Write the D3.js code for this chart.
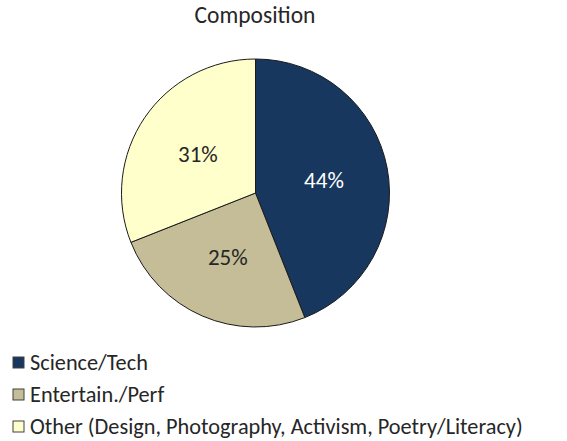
<!DOCTYPE html>
<html><head><meta charset="utf-8">
<script src="https://cdn.jsdelivr.net/npm/d3@7"></script>
<style>body{margin:0;background:#fff;} svg{display:block;} text{font-family:Carlito,Calibri,Lato,"Open Sans",sans-serif;}</style>
</head><body>
<div id="chart"></div>
<script>
const title = "Composition";
const categories = ["Science/Tech", "Entertain./Perf", "Other (Design, Photography, Activism, Poetry/Literacy)"];
const values = [44, 25, 31];
const labels = ["44%", "25%", "31%"];
const colors = ["#17375E", "#C4BD97", "#FFFFCC"];
const labelColors = ["#FFFFFF", "#262626", "#262626"];

const W = 567, H = 441;
const svg = d3.select("#chart").append("svg").attr("width", W).attr("height", H);
const cx = 255.5, cy = 193, R = 134;

svg.append("text").attr("x", 255).attr("y", 23).attr("text-anchor", "middle")
  .attr("font-size", 23.5).attr("fill", "#262626").text(title);

const pie = d3.pie().sort(null).value(d => d);
const arcs = pie(values);
const arc = d3.arc().innerRadius(0).outerRadius(R);
const labelArc = d3.arc().innerRadius(R * 0.52).outerRadius(R * 0.52);

const g = svg.append("g").attr("transform", `translate(${cx},${cy})`);
g.selectAll("path").data(arcs).join("path")
  .attr("d", arc).attr("fill", (d, i) => colors[i])
  .attr("stroke", "#1a1a1a").attr("stroke-width", 1);

g.selectAll("text.lbl").data(arcs).join("text").attr("class", "lbl")
  .attr("transform", d => `translate(${labelArc.centroid(d)})`)
  .attr("text-anchor", "middle").attr("dy", "0.35em")
  .attr("font-size", 23).attr("fill", (d, i) => labelColors[i])
  .text((d, i) => labels[i]);

const leg = svg.append("g");
const rows = leg.selectAll("g").data(categories).join("g")
  .attr("transform", (d, i) => `translate(13,${357 + i * 32})`);
rows.append("rect").attr("width", 11).attr("height", 11)
  .attr("fill", (d, i) => colors[i]).attr("stroke", "#404040").attr("stroke-width", 1);
rows.append("text").attr("x", 17).attr("y", 5.5).attr("dy", "0.35em")
  .attr("font-size", 22.3).attr("fill", "#262626").text(d => d);
</script>
</body></html>
